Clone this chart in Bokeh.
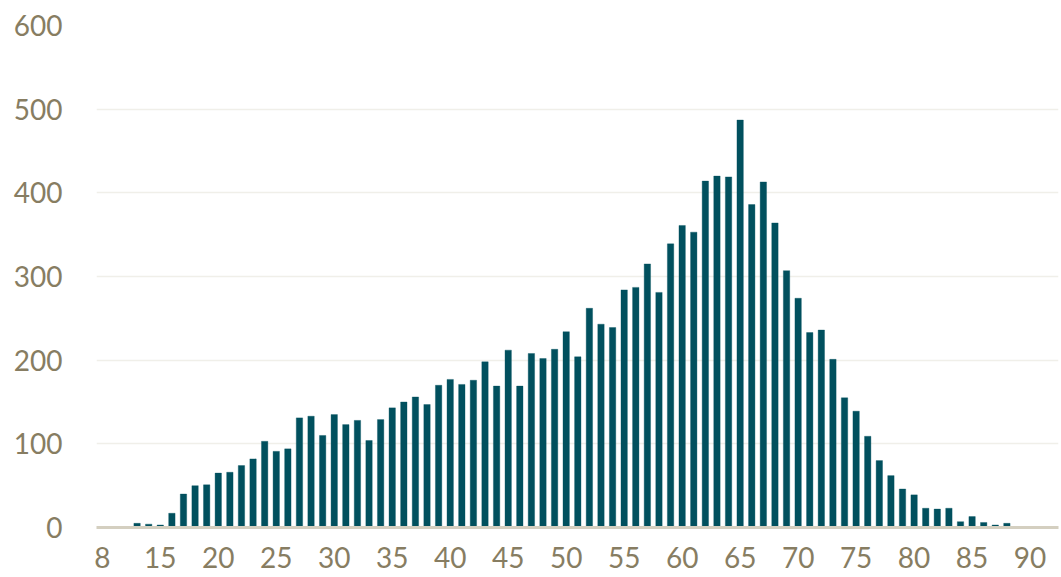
from bokeh.plotting import figure
from bokeh.models import ColumnDataSource, FixedTicker, Range1d
from bokeh.embed import file_html
from bokeh.resources import INLINE

# Categories (ages) in axis order; the axis label shows every 5th category
ages = [8] + list(range(11, 93))
counts = [0, 0, 0, 5, 4, 3, 17, 40, 50, 51,
          65, 66, 74, 82, 103, 91, 94, 131, 133, 110,
          135, 123, 128, 104, 129, 143, 150, 156, 147, 170,
          177, 171, 176, 198, 169, 212, 169, 208, 202, 213,
          234, 204, 262, 243, 239, 284, 287, 315, 281, 339,
          361, 353, 414, 420, 419, 487, 386, 413, 364, 307,
          274, 233, 236, 201, 155, 139, 109, 80, 62, 46,
          39, 23, 22, 23, 7, 13, 6, 3, 5, 0,
          0, 1, 0]
y_ticks = [0, 100, 200, 300, 400, 500, 600]

idx = list(range(len(ages)))
src = ColumnDataSource(dict(x=idx, top=counts, age=ages))

TXT = "#877d62"
p = figure(width=1061, height=577, output_backend="svg", toolbar_location=None,
           x_range=Range1d(-0.5, 82.45), y_range=Range1d(0, 600),
           min_border_left=96, min_border_right=3, min_border_top=25,
           min_border_bottom=50)
p.outline_line_color = None
p.background_fill_color = "white"
p.border_fill_color = "white"

p.vbar(x="x", top="top", width=0.55, source=src,
       fill_color="#01505e", line_color="#01505e", line_alpha=0.35, line_width=1)

label_idx = [i for i in idx if i % 5 == 0]
p.xaxis.ticker = FixedTicker(ticks=label_idx)
p.xaxis.major_label_overrides = {i: str(ages[i]) for i in label_idx}
p.yaxis.ticker = FixedTicker(ticks=y_ticks)

for ax in (p.xaxis, p.yaxis):
    ax.major_tick_line_color = None
    ax.minor_tick_line_color = None
    ax.major_label_text_color = TXT
    ax.major_label_text_font = "Lato"
    ax.major_label_text_font_size = "28px"
p.xaxis.axis_line_color = "#d4cfc0"
p.xaxis.axis_line_width = 3
p.xaxis.major_label_standoff = 13
p.yaxis.axis_line_color = None
p.yaxis.major_label_standoff = 28

p.xgrid.grid_line_color = None
p.ygrid.grid_line_color = "#f0efe9"
p.ygrid.grid_line_width = 1.5

open("out.html", "w").write(file_html(p, INLINE))
